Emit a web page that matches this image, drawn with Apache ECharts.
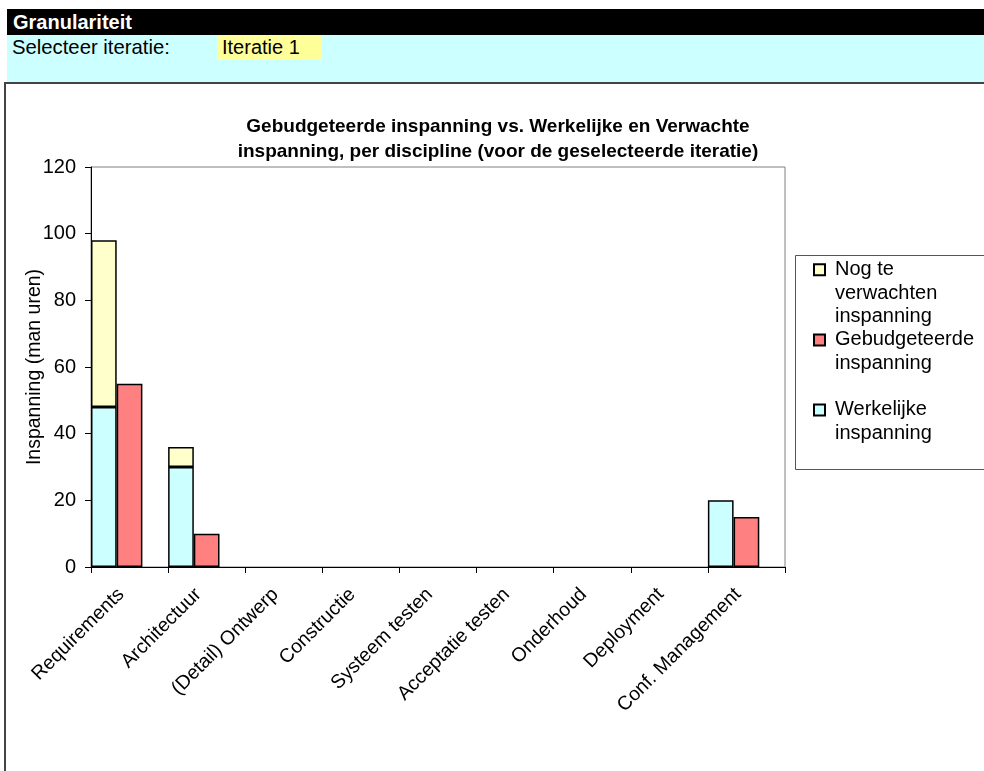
<!DOCTYPE html>
<html>
<head>
<meta charset="utf-8">
<script src="https://cdn.jsdelivr.net/npm/echarts@6/dist/echarts.min.js"></script>
<style>
  html, body { margin: 0; padding: 0; width: 984px; height: 771px; overflow: hidden; background: #fff; font-family: "Liberation Sans", Arial, sans-serif; }
  #hdr { position: absolute; left: 7px; top: 9px; width: 990px; height: 26px; background: #000; color: #fff; font-weight: bold; font-size: 20px; line-height: 26px; padding-left: 6px; box-sizing: border-box; }
  #sel { position: absolute; left: 7px; top: 35px; width: 990px; height: 48px; background: #CCFFFF; }
  #selLbl { position: absolute; left: 5px; top: 0px; font-size: 20.3px; line-height: 25px; color: #000; }
  #selBox { position: absolute; left: 210px; top: 0px; width: 104px; height: 25px; background: #FFFF99; font-size: 20px; line-height: 25px; padding-left: 5px; box-sizing: border-box; color: #000; }
  #frame { position: absolute; left: 4px; top: 82px; width: 1000px; height: 720px; border: 2px solid #444; background: #fff; }
  #chart { position: absolute; left: 0; top: 0; width: 984px; height: 771px; }
</style>
</head>
<body>
<div id="hdr">Granulariteit</div>
<div id="sel"><div id="selLbl">Selecteer iteratie:</div><div id="selBox">Iteratie 1</div></div>
<div id="frame"></div>
<div id="chart"></div>
<script>
const categories = ['Requirements', 'Architectuur', '(Detail) Ontwerp', 'Constructie', 'Systeem testen', 'Acceptatie testen', 'Onderhoud', 'Deployment', 'Conf. Management'];
const werkelijke = [48, 30, 0, 0, 0, 0, 0, 0, 20];
const nogTeVerwachten = [50, 6, 0, 0, 0, 0, 0, 0, 0];
const gebudgeteerde = [55, 10, 0, 0, 0, 0, 0, 0, 15];
const yTicks = { min: 0, max: 120, interval: 20 };
const titleText = 'Gebudgeteerde inspanning vs. Werkelijke en Verwachte\ninspanning, per discipline (voor de geselecteerde iteratie)';
const yName = 'Inspanning (man uren)';
const nameNog = 'Nog te verwachten inspanning';
const nameGeb = 'Gebudgeteerde inspanning';
const nameWerk = 'Werkelijke inspanning';

const FONT = '"Liberation Sans", Arial, sans-serif';
const chart = echarts.init(document.getElementById('chart'), null, { renderer: 'canvas' });
const border = { borderColor: '#000', borderWidth: 1.5 };
// zero-height bars are not drawn (no stray border on the axis)
const shown = arr => arr.map(v => (v === 0 ? '-' : v));
const legendText = { fontFamily: FONT, fontSize: 20, color: '#000', lineHeight: 23.3, padding: [0, 0, 0, 5] };
const legendBase = { orient: 'vertical', left: 813, padding: 0, itemWidth: 11, itemHeight: 11, icon: 'rect', selectedMode: false, textStyle: legendText };

chart.setOption({
  animation: false,
  textStyle: { fontFamily: FONT },
  title: {
    text: titleText, left: 493, top: 109, textAlign: 'center',
    textStyle: { fontFamily: FONT, fontSize: 19, fontWeight: 'bold', color: '#000', lineHeight: 25 }
  },
  grid: { left: 91, top: 167, width: 694, height: 400, show: true, borderColor: '#808080', borderWidth: 1, backgroundColor: 'transparent' },
  graphic: [{ type: 'rect', shape: { x: 795.5, y: 255.5, width: 220, height: 214 }, style: { fill: '#fff', stroke: '#555', lineWidth: 1 }, z: -1 }],
  legend: [
    Object.assign({}, legendBase, { top: 211.5, data: [nameNog], formatter: () => '\n\nNog te\nverwachten\ninspanning' }),
    Object.assign({}, legendBase, { top: 305, data: [nameGeb], formatter: () => '\nGebudgeteerde\ninspanning' }),
    Object.assign({}, legendBase, { top: 375, data: [nameWerk], formatter: () => '\nWerkelijke\ninspanning' })
  ],
  xAxis: {
    type: 'category', data: categories,
    axisLine: { lineStyle: { color: '#000', width: 1 } },
    axisTick: { show: true, length: 6, lineStyle: { color: '#000' } },
    axisLabel: { rotate: 45, interval: 0, fontSize: 19.5, color: '#000', fontFamily: FONT, margin: 16, padding: [0, 12, 0, 0] },
    splitLine: { show: false }
  },
  yAxis: {
    type: 'value', min: yTicks.min, max: yTicks.max, interval: yTicks.interval,
    name: yName, nameLocation: 'middle', nameGap: 46, nameRotate: 90, nameMoveOverlap: false,
    nameTextStyle: { fontSize: 19.5, color: '#000', fontFamily: FONT },
    axisLine: { show: true, lineStyle: { color: '#000', width: 1 } },
    axisTick: { show: true, length: 6, lineStyle: { color: '#000' } },
    axisLabel: { fontSize: 20, color: '#000', fontFamily: FONT, margin: 15 },
    splitLine: { show: false }
  },
  series: [
    { name: nameWerk, type: 'bar', stack: 'a', data: shown(werkelijke), itemStyle: Object.assign({ color: '#CCFFFF' }, border), barCategoryGap: '0%', barGap: '0%' },
    { name: nameNog, type: 'bar', stack: 'a', data: shown(nogTeVerwachten), itemStyle: Object.assign({ color: '#FFFFCC' }, border) },
    { name: nameGeb, type: 'bar', data: shown(gebudgeteerde), itemStyle: Object.assign({ color: '#FF8080' }, border) },
    { name: 'spacer', type: 'bar', data: categories.map(() => '-'), itemStyle: { color: 'transparent' } }
  ]
});
</script>
</body>
</html>
